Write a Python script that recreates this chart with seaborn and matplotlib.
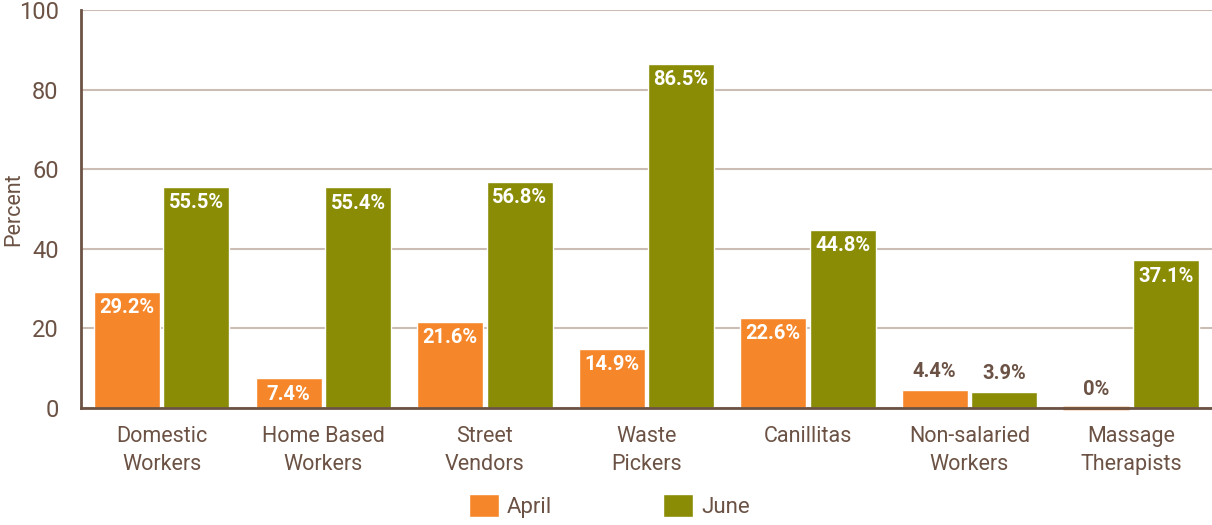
import pandas as pd
import matplotlib
matplotlib.use("Agg")
import matplotlib.pyplot as plt
import seaborn as sns

# data
groups = ["Domestic\nWorkers", "Home Based\nWorkers", "Street\nVendors", "Waste\nPickers",
          "Canillitas", "Non-salaried\nWorkers", "Massage\nTherapists"]
april = [29.2, 7.4, 21.6, 14.9, 22.6, 4.4, 0]
june = [55.5, 55.4, 56.8, 86.5, 44.8, 3.9, 37.1]
months = ["April", "June"]

brown = "#6b5244"
grid_c = "#cbbdb4"
palette = {"April": "#f5872a", "June": "#8a8c05"}

df = pd.DataFrame({
    "Group": groups * 2,
    "Month": ["April"] * len(groups) + ["June"] * len(groups),
    "Value": april + june,
})

sns.set_theme(style="white")
plt.rcParams["font.family"] = ["Roboto", "DejaVu Sans"]

fig = plt.figure(figsize=(12.12, 5.25), dpi=100)
ax = fig.add_axes([0.0668, 0.223, 0.933, 0.758])

sns.barplot(data=df, x="Group", y="Value", hue="Month", palette=palette,
            width=0.86, gap=0.05, ax=ax, legend=True, saturation=1)

# thin line for zero bar
for p in ax.patches:
    if p.get_height() == 0 and p.get_width() > 0:
        p.set_edgecolor("#e07a25")
        p.set_linewidth(2.5)
        p.set_clip_on(False)
        p.set_zorder(3)

ax.set_ylim(0, 100)
ax.set_xlim(-0.5, len(groups) - 0.5)
ax.set_yticks([0, 20, 40, 60, 80, 100])
ax.yaxis.grid(True, color=grid_c, linewidth=1.5)
ax.set_axisbelow(True)

for s in ["top", "right"]:
    ax.spines[s].set_visible(False)
for s in ["left", "bottom"]:
    ax.spines[s].set_color(brown)
    ax.spines[s].set_linewidth(2)
    ax.spines[s].set_zorder(4)

ax.tick_params(axis="y", length=0, labelsize=17, labelcolor=brown, pad=16)
ax.tick_params(axis="x", which="major", length=0, labelsize=15.5, labelcolor=brown, pad=13)
ax.set_xticks([i - 0.5 for i in range(1, len(groups))], minor=True)
ax.tick_params(axis="x", which="minor", direction="in", length=8, width=2, color=brown)
for lab in ax.get_xticklabels():
    lab.set_linespacing(1.45)

ax.set_xlabel("")
ax.set_ylabel("Percent", fontsize=15.5, color=brown)
ax.yaxis.set_label_coords(-0.05, 0.5)

# value labels
for cont, vals in zip(ax.containers, [april, june]):
    for bar, v in zip(cont, vals):
        txt = "0%" if v == 0 else f"{v}%"
        cx = bar.get_x() + bar.get_width() / 2
        if v >= 7:
            ax.text(cx, v - 4.0, txt, ha="center", va="center", color="white",
                    fontsize=14.5, fontweight="bold")
        else:
            ax.text(cx, v + 4.7, txt, ha="center", va="center", color=brown,
                    fontsize=14.5, fontweight="bold")

leg = ax.legend(loc="lower center", bbox_to_anchor=(0.503, -0.008), bbox_transform=fig.transFigure,
                ncol=2, frameon=False, fontsize=16, handlelength=1.35, handleheight=1.25,
                columnspacing=5.0, handletextpad=0.35, borderaxespad=0.1)
for t in leg.get_texts():
    t.set_color(brown)

fig.savefig("out.png", dpi=100)
